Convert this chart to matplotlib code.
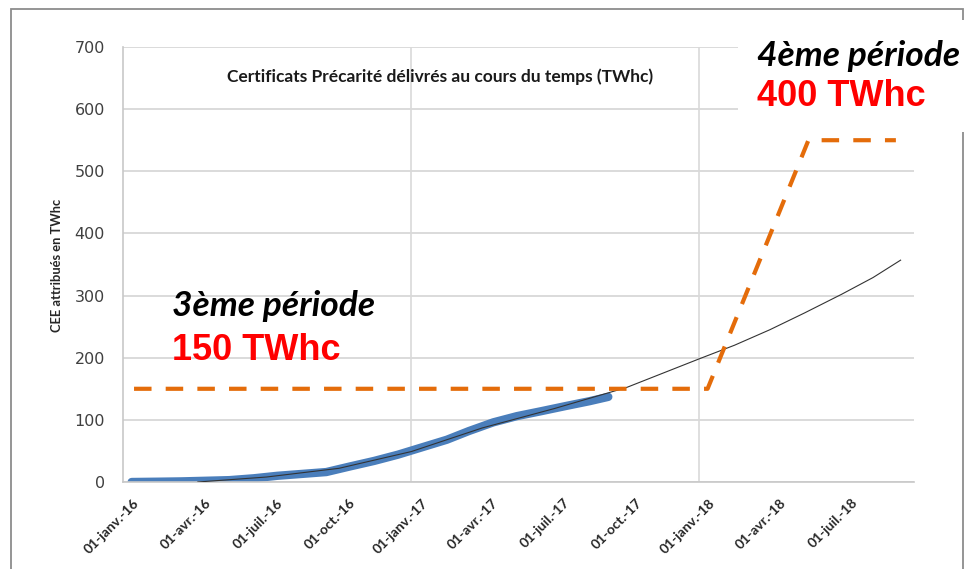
import matplotlib
matplotlib.use("Agg")
import matplotlib.pyplot as plt
import matplotlib.transforms as mtransforms
from matplotlib.patches import Rectangle
import pandas as pd

# Certificats Précarité délivrés (TWhc)
delivered_dates = ["2016-01-12", "2016-02-15", "2016-03-15", "2016-04-15",
                   "2016-05-15", "2016-06-15", "2016-07-15", "2016-08-15",
                   "2016-09-15", "2016-10-15", "2016-11-15", "2016-12-15",
                   "2017-01-15", "2017-02-15", "2017-03-15", "2017-04-15",
                   "2017-05-15", "2017-06-15", "2017-07-15", "2017-08-15",
                   "2017-09-08"]
delivered_values = [0, 0.5, 1, 2, 3, 6, 10, 13, 16, 25, 34, 44,
                    56, 68, 82, 96, 106, 114, 122, 130, 137]

# tendance (courbe fine)
trend_dates = ["2016-04-05", "2016-07-01", "2016-10-01", "2017-01-01",
               "2017-04-01", "2017-07-01", "2017-10-01", "2018-01-01",
               "2018-02-15", "2018-04-01", "2018-05-15", "2018-07-01",
               "2018-08-10", "2018-09-14"]
trend_values = [0, 8, 22, 49, 87, 118, 152, 198, 220, 245, 272, 302, 329, 357]

# objectifs 3ème / 4ème période
target_dates = ["2016-01-15", "2018-01-12", "2018-05-20", "2018-09-08"]
target_values = [150, 150, 550, 550]

tick_dates = pd.date_range("2016-01-01", "2018-07-01", freq="QS")
month_names = {1: "janv.", 4: "avr.", 7: "juil.", 10: "oct."}
tick_labels = [f"01-{month_names[d.month]}-{d.strftime('%y')}" for d in tick_dates]
year_lines = ["2017-01-01", "2018-01-01"]

W, H = 971, 569
fig = plt.figure(figsize=(W / 100, H / 100), dpi=100)
ax = fig.add_axes([123 / W, 1 - 482 / H, (914 - 123) / W, (482 - 47) / H])

# cadre du graphique
fig.patches.append(Rectangle((11 / W, -0.05), (963 - 11) / W, 1.05 - 9 / H,
                             transform=fig.transFigure, fill=False,
                             edgecolor="#8c8c8c", linewidth=1.3, zorder=0))

ax.plot(pd.to_datetime(delivered_dates), delivered_values, color="#4a7ebb",
        linewidth=6, solid_capstyle="round", zorder=2)
ax.plot(pd.to_datetime(trend_dates), trend_values, color="#333333",
        linewidth=0.8, zorder=3)
ax.plot(pd.to_datetime(target_dates), target_values, color="#e46c0a",
        linewidth=3, dashes=(4.2, 3.4), zorder=4)

ax.set_xlim(pd.Timestamp("2016-01-01"), pd.Timestamp("2018-10-01"))
ax.set_ylim(0, 700)
ax.set_yticks(range(0, 701, 100))
ax.yaxis.grid(True, color="#d4d4d4", linewidth=1.2)
for d in year_lines:
    ax.axvline(pd.Timestamp(d), color="#d9d9d9", linewidth=1.2, zorder=1)
ax.set_axisbelow(True)

# étiquettes de dates inclinées, façon Excel
ax.set_xticks(tick_dates)
ax.set_xticklabels([])
ax.tick_params(axis="x", length=0)
offset = mtransforms.ScaledTranslation(0.14, -0.19, fig.dpi_scale_trans)
for d, label in zip(tick_dates, tick_labels):
    ax.text(d, 0, label, transform=ax.get_xaxis_transform() + offset,
            rotation=45, ha="right", va="center", rotation_mode="anchor",
            fontfamily="Lato", fontweight="bold", fontsize=10,
            color="#262626")

ax.tick_params(axis="y", length=0, pad=13, labelsize=11.5, labelcolor="#404040")

for side in ["top", "right"]:
    ax.spines[side].set_visible(False)
for side in ["left", "bottom"]:
    ax.spines[side].set_color("#c8c8c8")
    ax.spines[side].set_linewidth(1.2)

ax.set_ylabel("CEE attribués en TWhc", fontfamily="Lato", fontweight="bold",
              fontsize=9.3, color="#262626")
ax.yaxis.set_label_coords(-(123 - 63) / (914 - 123), (482 - 265) / (482 - 47))

fig.text(440 / W, 1 - 77 / H,
         "Certificats Précarité délivrés au cours du temps (TWhc)",
         ha="center", va="center", fontfamily="Lato", fontweight="bold",
         fontsize=12.5, color="#1a1a1a")

# zone blanche de l'encadré 4ème période
fig.patches.append(Rectangle((738 / W, 1 - 132 / H), (W - 738) / W,
                             (132 - 20) / H, transform=fig.transFigure,
                             facecolor="white", edgecolor="none", zorder=5))

fig.text(172 / W, 1 - 306 / H, "3ème période", ha="left", va="center",
         fontfamily="Lato", fontweight="bold", fontstyle="italic",
         fontsize=25.5, color="black", zorder=6)
fig.text(172 / W, 1 - 350 / H, "150 TWhc", ha="left", va="center",
         fontfamily="Liberation Sans", fontweight="bold", fontsize=26,
         color="#ff0000", zorder=6)
fig.text(757 / W, 1 - 56 / H, "4ème période", ha="left", va="center",
         fontfamily="Lato", fontweight="bold", fontstyle="italic",
         fontsize=25.5, color="black", zorder=6)
fig.text(757 / W, 1 - 97 / H, "400 TWhc", ha="left", va="center",
         fontfamily="Liberation Sans", fontweight="bold", fontsize=26,
         color="#ff0000", zorder=6)

fig.savefig("out.png", dpi=100)
